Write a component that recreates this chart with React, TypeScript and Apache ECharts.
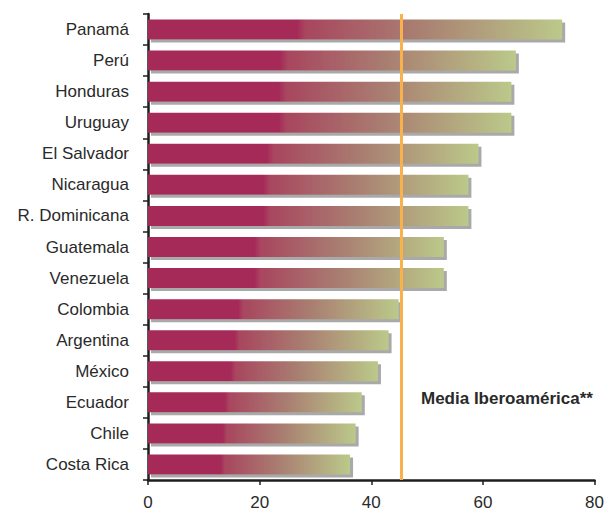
import React, { useEffect, useRef } from "react";
import * as echarts from "echarts";

const categories = [
  "Panamá", "Perú", "Honduras", "Uruguay", "El Salvador", "Nicaragua",
  "R. Dominicana", "Guatemala", "Venezuela", "Colombia", "Argentina",
  "México", "Ecuador", "Chile", "Costa Rica",
];
const values = [74.2, 65.9, 65.1, 65.1, 59.2, 57.4, 57.4, 53.0, 53.0, 44.9, 43.1, 41.2, 38.3, 37.2, 36.2];
const mediaIberoamerica = 45.3;
const mediaLabel = "Media Iberoamérica**";
const xTicks = { min: 0, max: 80, interval: 20 };

const FONT = "'Liberation Sans', Arial, Helvetica, sans-serif";

export default function App() {
  const ref = useRef<HTMLDivElement>(null);
  useEffect(() => {
    if (!ref.current) return;
    const chart = echarts.init(ref.current, null, { renderer: "svg" });
    const barColor = new echarts.graphic.LinearGradient(0, 0, 1, 0, [
      { offset: 0, color: "#a62a58" },
      { offset: 0.36, color: "#a62a58" },
      { offset: 0.38, color: "#a8465f" },
      { offset: 0.65, color: "#a97e71" },
      { offset: 1, color: "#bbc98a" },
    ]);
    chart.setOption({
      animation: false,
      grid: { left: 148, right: 12, top: 14, bottom: 33, containLabel: false },
      xAxis: {
        type: "value",
        min: xTicks.min,
        max: xTicks.max,
        interval: xTicks.interval,
        splitLine: { show: false },
        axisLine: { show: true, lineStyle: { color: "#1e1e1e", width: 2.5 } },
        axisTick: { show: true, length: 5, lineStyle: { color: "#1e1e1e", width: 1.5 } },
        axisLabel: { color: "#2a2a2a", fontSize: 17, fontFamily: FONT, margin: 14 },
      },
      yAxis: {
        type: "category",
        data: categories,
        inverse: true,
        axisLine: { show: true, lineStyle: { color: "#1e1e1e", width: 2.5 } },
        axisTick: { show: true, length: 5, lineStyle: { color: "#1e1e1e", width: 1.5 } },
        axisLabel: { color: "#2a2a2a", fontSize: 17, fontFamily: FONT, margin: 19 },
        splitLine: { show: false },
      },
      series: [
        {
          type: "bar",
          data: values,
          barWidth: 20,
          itemStyle: {
            color: barColor,
            shadowColor: "#a9a9a9",
            shadowBlur: 0,
            shadowOffsetX: 3,
            shadowOffsetY: 3,
          },
          markLine: {
            silent: true,
            symbol: "none",
            label: { show: false },
            lineStyle: { color: "#f7b24e", width: 3, type: "solid" },
            data: [{ xAxis: mediaIberoamerica }],
          },
          z: 1,
        },
      ],
      graphic: [
        {
          type: "text",
          left: 421,
          top: 390,
          style: {
            text: mediaLabel,
            font: `bold 17px ${FONT}`,
            fill: "#2a2a2a",
          },
        },
      ],
    });
    return () => chart.dispose();
  }, []);
  return <div ref={ref} style={{ width: 607, height: 513, position: "absolute", left: 0, top: 0 }} />;
}
